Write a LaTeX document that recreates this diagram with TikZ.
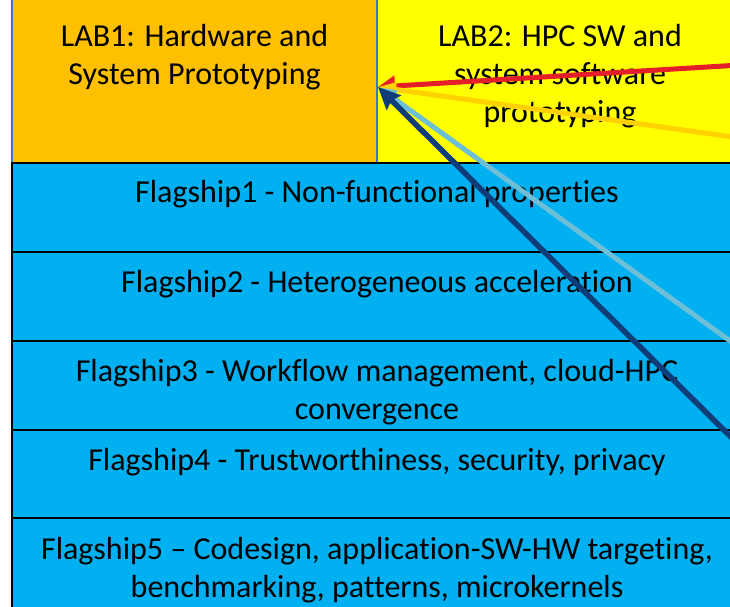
\documentclass[tikz,border=0pt]{standalone}
\usepackage{fontspec}
\setmainfont[Ligatures=NoCommon]{Carlito}
\usetikzlibrary{arrows.meta}
\definecolor{labone}{HTML}{FFC000}
\definecolor{labtwo}{HTML}{FFFF00}
\definecolor{flag}{HTML}{00B0F0}
\definecolor{frameblue}{HTML}{4472C4}
\definecolor{redarrow}{HTML}{E3202A}
\definecolor{goldarrow}{HTML}{FFD200}
\definecolor{lightarrow}{HTML}{6DBFD8}
\definecolor{darkarrow}{HTML}{0F3D7A}
\tikzset{
  labbox/.style={draw=frameblue, line width=1.2pt},
  flagrow/.style={draw=black, line width=2pt, fill=flag},
  boxtext/.style={anchor=north, align=center, inner sep=0pt,
    font=\fontsize{32}{38}\selectfont, text=black},
  link/.style={line width=5pt, line cap=butt},
}
\begin{document}
\begin{tikzpicture}[x=1pt, y=-1pt]
  \useasboundingbox (0,0) rectangle (730,606);
  \clip (0,0) rectangle (730,606);
  % laboratory boxes
  \fill[white] (0,0) rectangle (730,606);
  \filldraw[labbox, fill=labone] (12,-5) rectangle (377,163);
  \filldraw[labbox, fill=labtwo] (377,-5) rectangle (745,163);
  \node[boxtext] (lab1) at (194.5,24) {LAB1: Hardware and\\System Prototyping};
  \node[boxtext] (lab2) at (560,24) {LAB2: HPC SW and\\system software\\prototyping};
  % flagship rows
  \draw[flagrow] (12,163) rectangle (745,252);
  \draw[flagrow] (12,252) rectangle (745,341);
  \draw[flagrow] (12,341) rectangle (745,430);
  \draw[flagrow] (12,430) rectangle (745,518);
  \draw[flagrow] (12,518) rectangle (745,620);
  \node[boxtext] (f1) at (377,180) {Flagship1 - Non-functional properties};
  \node[boxtext] (f2) at (377,270) {Flagship2 - Heterogeneous acceleration};
  \node[boxtext] (f3) at (377,359) {Flagship3 - Workflow management, cloud-HPC\\convergence};
  \node[boxtext] (f4) at (377,448) {Flagship4 - Trustworthiness, security, privacy};
  \node[boxtext] (f5) at (377,537) {Flagship5 – Codesign, application-SW-HW targeting,\\benchmarking, patterns, microkernels};
  % arrows converging on the LAB1 box
  \coordinate (tip) at (378,87);
  \coordinate (redstart) at (740,65);
  \coordinate (goldstart) at (740,138);
  \coordinate (lightstart) at (740,348);
  \coordinate (darkstart) at (740,446);
  \draw[link, redarrow, -{Triangle[length=17pt, width=20pt]}] (redstart) -- (tip);
  \draw[link, goldarrow, -{Triangle[length=18pt, width=14pt]}] (goldstart) -- (tip);
  \draw[link, lightarrow, -{Triangle[length=18pt, width=16pt]}] (lightstart) -- (tip);
  \draw[link, darkarrow, line width=5.5pt, -{Stealth[length=22pt, width=20pt, inset=3pt]}] (darkstart) -- (tip);
\end{tikzpicture}
\end{document}
